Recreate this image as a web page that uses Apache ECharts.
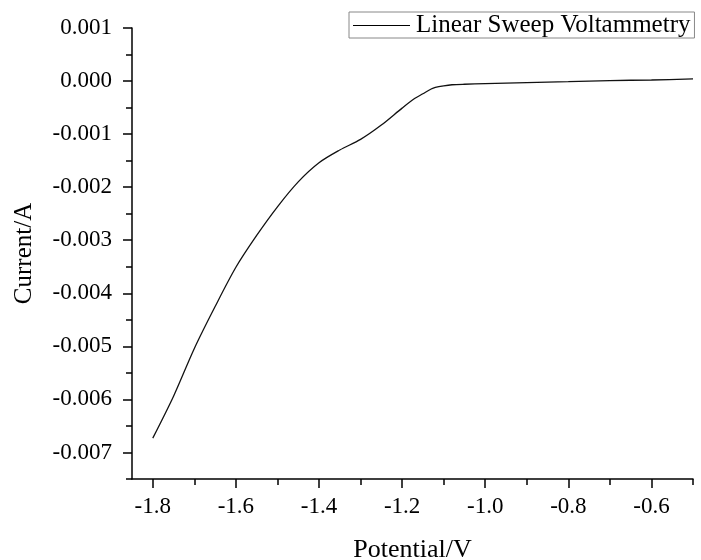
<!DOCTYPE html>
<html>
<head>
<meta charset="utf-8">
<script src="https://cdn.jsdelivr.net/npm/echarts@6/dist/echarts.min.js"></script>
<style>
    html, body { margin: 0; padding: 0; background: #fff; }
    #chart_lsv { width: 701px; height: 560px; }
</style>
</head>
<body>
<div id="chart_lsv"></div>
<script>
// potential (V) and current (A)
var potential = [-1.80, -1.75, -1.70, -1.65, -1.60, -1.55, -1.50, -1.45, -1.40, -1.35,
    -1.30, -1.25, -1.20, -1.17, -1.15, -1.13, -1.12, -1.10, -1.08, -1.05,
    -1.00, -0.90, -0.80, -0.70, -0.60, -0.50];
var current = [-0.00673, -0.00594, -0.00504, -0.00425, -0.00351, -0.00291, -0.00237, -0.00190, -0.00154, -0.00130,
    -0.00110, -0.00083, -0.00051, -0.00033, -0.00024, -0.00015, -0.00012, -0.00009, -0.00007, -0.00006,
    -0.00005, -0.00003, -0.00001, 0.00001, 0.00002, 0.00004];

var x_major = [-1.8, -1.6, -1.4, -1.2, -1.0, -0.8, -0.6];
var x_minor = [-1.7, -1.5, -1.3, -1.1, -0.9, -0.7, -0.5];
var y_major = [-0.007, -0.006, -0.005, -0.004, -0.003, -0.002, -0.001, 0, 0.001];
var y_minor = [-0.0075, -0.0065, -0.0055, -0.0045, -0.0035, -0.0025, -0.0015, -0.0005, 0.0005];

var seriesName = 'Linear Sweep Voltammetry';
var font = 'Liberation Serif';

var chart_lsv = {
    echarts: echarts.init(document.getElementById('chart_lsv')),
    drawEcharts: function () {
        let points = potential.map(function (v, i) { return [v, current[i]]; });

        let option = {
            animation: false,
            backgroundColor: '#fff',
            grid: {
                left: 132,
                top: 28,
                right: 8,
                bottom: 81,
                containLabel: false,
                outerBoundsMode: 'none'
            },
            legend: {
                data: [seriesName],
                left: 349,
                top: 12,
                padding: [1, 4, 0, 4],
                borderColor: '#888',
                borderWidth: 1,
                icon: 'rect',
                itemWidth: 57,
                itemHeight: 1.2,
                itemGap: 0,
                textStyle: {
                    fontFamily: font,
                    fontSize: 25,
                    color: '#000',
                    padding: [0, 0, 0, 1]
                }
            },
            xAxis: [
                {
                    type: 'value',
                    position: 'bottom',
                    min: -1.85,
                    max: -0.5,
                    interval: 0.05,
                    name: 'Potential/V',
                    nameLocation: 'middle',
                    nameGap: 58,
                    nameTextStyle: { fontFamily: font, fontSize: 26, color: '#000' },
                    axisLine: { onZero: false, lineStyle: { color: '#000', width: 1.5 } },
                    axisTick: { customValues: x_major, length: 9, lineStyle: { color: '#000', width: 1.5 } },
                    axisLabel: {
                        customValues: x_major,
                        margin: 16,
                        fontFamily: font,
                        fontSize: 23,
                        color: '#000',
                        formatter: function (v) { return v.toFixed(1); }
                    },
                    splitLine: { show: false }
                },
                {
                    type: 'value',
                    position: 'bottom',
                    min: -1.85,
                    max: -0.5,
                    interval: 0.05,
                    axisLine: { show: false, onZero: false },
                    axisTick: { customValues: x_minor, length: 6, lineStyle: { color: '#000', width: 1.5 } },
                    axisLabel: { show: false },
                    splitLine: { show: false }
                }
            ],
            yAxis: [
                {
                    type: 'value',
                    position: 'left',
                    min: -0.0075,
                    max: 0.001,
                    interval: 0.0005,
                    name: 'Current/A',
                    nameLocation: 'middle',
                    nameGap: 95,
                    nameTextStyle: { fontFamily: font, fontSize: 25, color: '#000' },
                    axisLine: { onZero: false, lineStyle: { color: '#000', width: 1.5 } },
                    axisTick: { customValues: y_major, length: 9, lineStyle: { color: '#000', width: 1.5 } },
                    axisLabel: {
                        customValues: y_major,
                        margin: 20,
                        fontFamily: font,
                        fontSize: 23,
                        color: '#000',
                        formatter: function (v) { return v.toFixed(3); }
                    },
                    splitLine: { show: false }
                },
                {
                    type: 'value',
                    position: 'left',
                    min: -0.0075,
                    max: 0.001,
                    interval: 0.0005,
                    axisLine: { show: false, onZero: false },
                    axisTick: { customValues: y_minor, length: 6, lineStyle: { color: '#000', width: 1.5 } },
                    axisLabel: { show: false },
                    splitLine: { show: false }
                }
            ],
            series: [
                {
                    name: seriesName,
                    type: 'line',
                    data: points,
                    color: '#000',
                    smooth: 0.3,
                    showSymbol: false,
                    symbol: 'none',
                    lineStyle: { color: '#111', width: 1.3 }
                }
            ]
        };

        this.echarts.setOption(option);
    }
}

chart_lsv.drawEcharts()
</script>
</body>
</html>
